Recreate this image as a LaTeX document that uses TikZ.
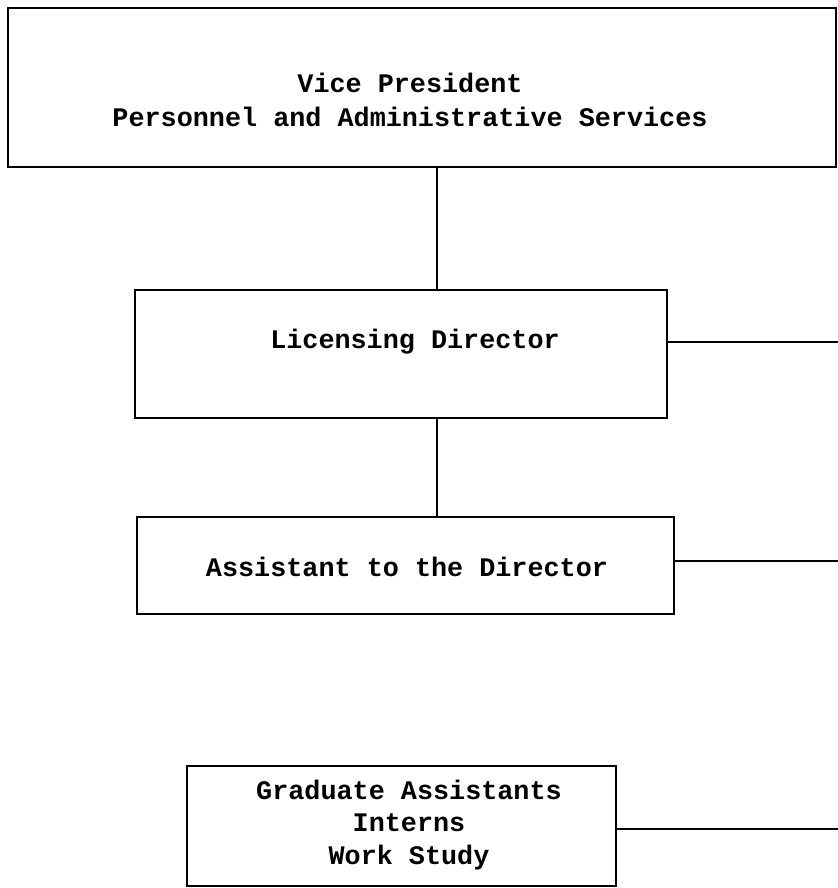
\documentclass[tikz,border=0pt]{standalone}
\usepackage{fontspec}
\newfontfamily\chartfont{Liberation Mono}
\begin{document}
\begin{tikzpicture}[x=0.5pt, y=-0.5pt, line width=1pt,
  box/.style={draw, rectangle, inner sep=0pt},
  label/.style={font=\chartfont\bfseries\fontsize{13.4}{17}\selectfont, align=center}]
\useasboundingbox (0,0) rectangle (838,888);
\node[box, minimum width=414pt, minimum height=79.5pt] (vp) at (422,87.5) {};
\node[label] (vptext) at (410,100) {Vice President\\Personnel and Administrative Services};
\node[box, minimum width=266pt, minimum height=64pt] (lic) at (401,354) {};
\node[label] (lictext) at (415,342) {Licensing Director};
\node[box, minimum width=268.5pt, minimum height=48.5pt] (asst) at (405.5,565.5) {};
\node[label] (assttext) at (407,567) {Assistant to the Director};
\node[box, minimum width=214.5pt, minimum height=60pt] (grad) at (401.5,826) {};
\node[label, font=\chartfont\bfseries\fontsize{13.4}{16.25}\selectfont] (gradtext) at (409,825) {Graduate Assistants\\Interns\\Work Study};
\coordinate (spine) at (437,0);
\coordinate (edgelic) at (838,342);
\coordinate (edgeasst) at (838,561);
\coordinate (edgegrad) at (838,829);
\draw (vp.south -| spine) -- (lic.north -| spine);
\draw (lic.south -| spine) -- (asst.north -| spine);
\draw (lic.east |- edgelic) -- (edgelic);
\draw (asst.east |- edgeasst) -- (edgeasst);
\draw (grad.east |- edgegrad) -- (edgegrad);
\end{tikzpicture}
\end{document}
